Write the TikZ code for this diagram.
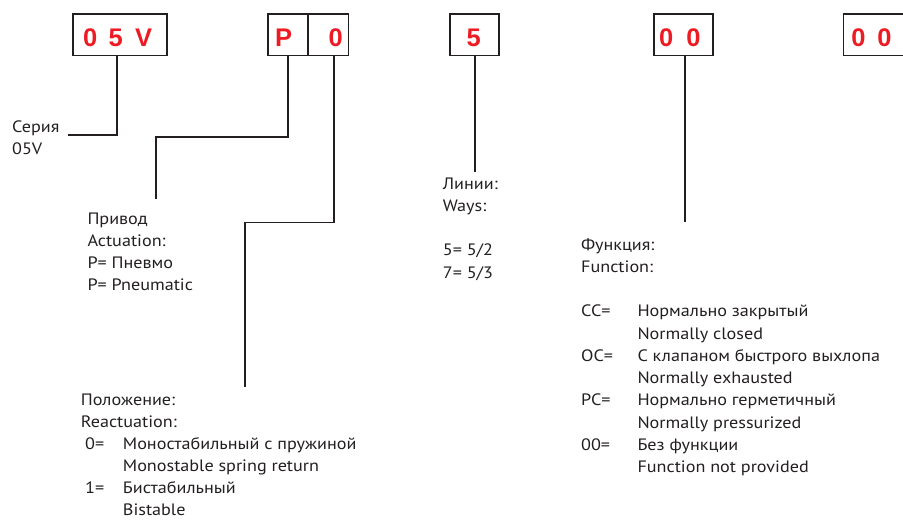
\documentclass[tikz,border=0pt]{standalone}
\usepackage{fontspec}
\setmainfont{PT Sans}[FakeStretch=1.1]
\newfontfamily\boxfont{Liberation Sans}
\definecolor{codered}{HTML}{ED1C24}
\definecolor{ink}{HTML}{231F20}
\begin{document}
\begin{tikzpicture}[x=1pt,y=-1pt,
  codebox/.style={draw=ink, line width=1.7pt, inner sep=0pt, minimum height=41.5pt},
  code/.style={text=codered, font=\boxfont\bfseries\fontsize{25.5}{30}\selectfont, inner sep=0pt, anchor=base west},
  lbl/.style={text=ink, font=\fontsize{16.5}{22.3}\selectfont, inner sep=0pt, anchor=base west},
  wire/.style={draw=ink, line width=1.6pt}]
\useasboundingbox (0,0) rectangle (903,520);
% code boxes
\node[codebox, minimum width=94pt] (b05) at (120,34.75) {};
\node[codebox, minimum width=40pt] (bP) at (288,34.75) {};
\node[codebox, minimum width=40.5pt] (bO) at (328.25,34.75) {};
\node[codebox, minimum width=49pt] (b5) at (474.5,34.75) {};
\node[codebox, minimum width=59pt] (b00a) at (683.5,34.75) {};
\node[codebox, minimum width=60.5pt] (b00b) at (873.75,34.75) {};
% code texts
\node[code] (t05) at (82.8,46) {0\kern11.5pt5\kern12.3pt V};
\node[code] (tP) at (274.8,46) {P};
\node[code] (tO) at (328.5,46) {0};
\node[code] (t5) at (466.5,46) {5};
\node[code] (t00a) at (658.8,46) {0\kern13.2pt0};
\node[code] (t00b) at (851.2,46) {0\kern11.8pt0};
% connector points
\coordinate (k05) at (117,135);
\coordinate (e05) at (68,135);
\coordinate (kP) at (288,137);
\coordinate (cP) at (156,137);
\coordinate (eP) at (156,199);
\coordinate (kO) at (334,222.5);
\coordinate (cO) at (245,222.5);
\coordinate (eO) at (245,387);
\coordinate (e5) at (475,172);
\coordinate (e00) at (685,222);
% connectors
\draw[wire] (b05.south -| k05) -- (k05) -- (e05);
\draw[wire] (bP.south -| kP) -- (kP) -- (cP) -- (eP);
\draw[wire] (bO.south -| kO) -- (kO) -- (cO) -- (eO);
\draw[wire] (b5.south -| e5) -- (e5);
\draw[wire] (b00a.south -| e00) -- (e00);
% labels
\node[lbl] (ser) at (12,132.3) {\begin{tabular}[t]{@{}l@{}}Серия\\05V\end{tabular}};
\node[lbl] (act) at (87.3,224) {\begin{tabular}[t]{@{}l@{}}Привод\\Actuation:\\P= Пневмо\\P= Pneumatic\end{tabular}};
\node[lbl] (ways) at (442.7,189) {\begin{tabular}[t]{@{}l@{}}Линии:\\Ways:\\ \\5= 5/2\\7= 5/3\end{tabular}};
\node[lbl] (fun) at (581,250) {\begin{tabular}[t]{@{}l@{}}Функция:\\Function:\end{tabular}};
\node[lbl] (funk) at (581,316.7) {\begin{tabular}[t]{@{}l@{}}CC=\\ \\OC=\\ \\PC=\\ \\00=\end{tabular}};
\node[lbl] (funv) at (637.3,316.7) {\begin{tabular}[t]{@{}l@{}}Нормально закрытый\\Normally closed\\С клапаном быстрого выхлопа\\Normally exhausted\\Нормально герметичный\\Normally pressurized\\Без функции\\Function not provided\end{tabular}};
\node[lbl] (pos) at (80.7,405) {\begin{tabular}[t]{@{}l@{}}Положение:\\Reactuation:\end{tabular}};
\node[lbl] (posk) at (85,449) {\begin{tabular}[t]{@{}l@{}}0=\\ \\1=\end{tabular}};
\node[lbl] (posv) at (122.7,449) {\begin{tabular}[t]{@{}l@{}}Моностабильный с пружиной\\Monostable spring return\\Бистабильный\\Bistable\end{tabular}};
\end{tikzpicture}
\end{document}
